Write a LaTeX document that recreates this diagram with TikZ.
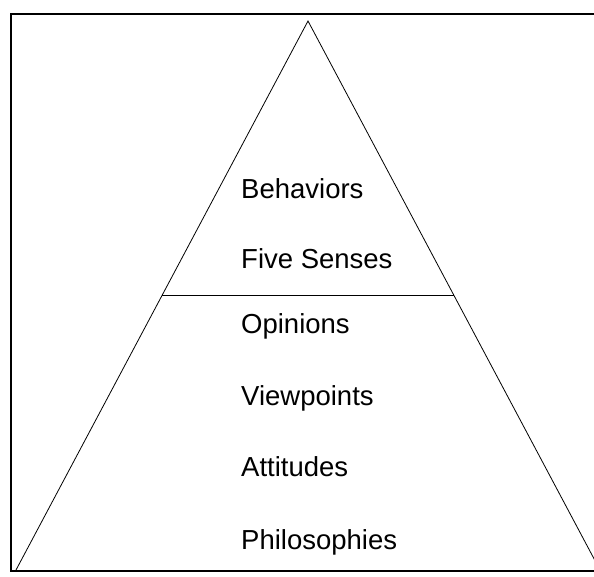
\documentclass[tikz,border=0pt]{standalone}
\usepackage{fontspec}
\setmainfont{Liberation Sans}
\usetikzlibrary{positioning,calc}

\begin{document}
\begin{tikzpicture}[x=1pt,y=-1pt,on grid,
  lbl/.style={inner sep=0pt,font=\fontsize{27.5}{32}\selectfont}]
   \useasboundingbox (0,0) rectangle (594,576);
   \clip (0,0) rectangle (594,576);
   \draw[line width=2.4pt] (11,14) rectangle (620,571);
   \coordinate (top) at (308,21);
   \coordinate (bl) at (16,570);
   \coordinate (br) at (600,570);
   \draw[line width=0.8pt] (bl) -- (top) -- (br);
   \draw[line width=1.1pt] ($(top)!0.5!(bl)$) -- ($(top)!0.5!(br)$);
   \node[lbl, anchor=base west] (beh) at (241,198) {Behaviors};
   \node[lbl, below=70pt of beh.base west, anchor=base west] (five) {Five Senses};
   \node[lbl, below=65pt of five.base west, anchor=base west] (opin) {Opinions};
   \node[lbl, below=72pt of opin.base west, anchor=base west] (view) {Viewpoints};
   \node[lbl, below=71pt of view.base west, anchor=base west] (att) {Attitudes};
   \node[lbl, below=73pt of att.base west, anchor=base west] (phil) {Philosophies};
\end{tikzpicture}
\end{document}
